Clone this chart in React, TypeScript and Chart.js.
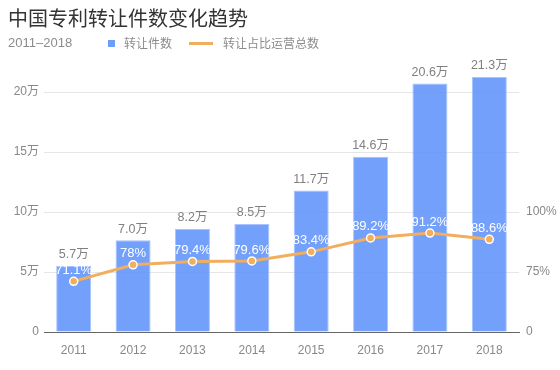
import React, { useEffect, useRef } from "react";
import { Chart, registerables } from "chart.js";

Chart.register(...registerables);

const TITLE = "中国专利转让件数变化趋势";
const SUBTITLE = "2011–2018";
const LEGEND_BAR = "转让件数";
const LEGEND_LINE = "转让占比运营总数";

const years = ["2011", "2012", "2013", "2014", "2015", "2016", "2017", "2018"];
// bar heights (万) as drawn
const transferCounts = [5.5, 7.65, 8.6, 9.0, 11.8, 14.6, 20.7, 21.25];
// bar value labels as printed
const transferLabels = ["5.7万", "7.0万", "8.2万", "8.5万", "11.7万", "14.6万", "20.6万", "21.3万"];
// share of total operations (%)
const shareValues = [71.1, 78, 79.4, 79.6, 83.4, 89.2, 91.2, 88.6];
const shareLabels = ["71.1%", "78%", "79.4%", "79.6%", "83.4%", "89.2%", "91.2%", "88.6%"];

const leftTicks = [0, 5, 10, 15, 20];
const rightTicks = [50, 75, 100];
const rightTickLabels: Record<number, string> = { 50: "0", 75: "75%", 100: "100%" };

const FONT = '"Liberation Sans", "Noto Sans CJK SC", sans-serif';
const CJK = '"Noto Sans CJK SC", sans-serif';
const BAR_COLOR = "rgba(91,143,249,0.85)";
const LINE_COLOR = "#f0ae5e";

const labelPlugin = {
  id: "valueLabels",
  afterDatasetsDraw(chart: any) {
    const ctx = chart.ctx;
    ctx.save();
    ctx.textAlign = "center";
    ctx.textBaseline = "middle";
    const barMeta = chart.getDatasetMeta(1);
    ctx.font = `12.5px ${FONT}`;
    ctx.fillStyle = "#808080";
    barMeta.data.forEach((el: any, i: number) => {
      ctx.fillText(transferLabels[i], el.x, el.y - 11);
    });
    const lineMeta = chart.getDatasetMeta(0);
    ctx.font = `13px ${FONT}`;
    ctx.fillStyle = "#ffffff";
    lineMeta.data.forEach((el: any, i: number) => {
      ctx.fillText(shareLabels[i], el.x, el.y - 11);
    });
    ctx.restore();
  },
};

export default function App() {
  const canvasRef = useRef<HTMLCanvasElement | null>(null);

  useEffect(() => {
    document.body.style.margin = "0";
    const canvas = canvasRef.current;
    if (!canvas) return;
    const chart = new Chart(canvas, {
      data: {
        labels: years,
        datasets: [
          {
            type: "line",
            label: LEGEND_LINE,
            data: shareValues,
            yAxisID: "y1",
            borderColor: LINE_COLOR,
            borderWidth: 3,
            pointRadius: 4,
            pointBackgroundColor: LINE_COLOR,
            pointBorderColor: "#ffffff",
            pointBorderWidth: 1.5,
            tension: 0,
            order: 0,
          },
          {
            type: "bar",
            label: LEGEND_BAR,
            data: transferCounts,
            yAxisID: "y",
            backgroundColor: BAR_COLOR,
            borderColor: "rgba(160,190,255,0.9)",
            borderWidth: 1,
            barPercentage: 0.59,
            categoryPercentage: 1,
            order: 1,
          },
        ],
      } as any,
      options: {
        animation: false,
        responsive: false,
        maintainAspectRatio: false,
        layout: { padding: { top: 62, left: 0, right: 0, bottom: 0 } },
        plugins: {
          legend: { display: false },
          tooltip: { enabled: false },
          title: { display: false },
        },
        scales: {
          x: {
            grid: { display: false, drawTicks: false },
            border: { display: true, color: "#666666", width: 1 },
            ticks: { color: "#888888", font: { family: FONT, size: 12 }, padding: 11 },
            afterFit(scale: any) {
              scale.height = 38;
            },
          },
          y: {
            position: "left",
            min: 0,
            max: 22.5,
            grid: { color: "#e6e6e6", drawTicks: false, lineWidth: 1 },
            border: { display: false },
            ticks: {
              color: "#888888",
              font: { family: FONT, size: 12 },
              padding: 5,
              callback: (v: any) => (v === 0 ? "0" : `${v}万`),
            },
            afterBuildTicks(scale: any) {
              scale.ticks = leftTicks.map((v) => ({ value: v }));
            },
            afterFit(scale: any) {
              scale.width = 44;
            },
          },
          y1: {
            position: "right",
            min: 50,
            max: 162.5,
            grid: { display: false, drawTicks: false },
            border: { display: false },
            ticks: {
              color: "#888888",
              font: { family: FONT, size: 12 },
              padding: 7,
              callback: (v: any) => rightTickLabels[v] ?? "",
            },
            afterBuildTicks(scale: any) {
              scale.ticks = rightTicks.map((v) => ({ value: v }));
            },
            afterFit(scale: any) {
              scale.width = 41;
            },
          },
        },
      } as any,
      plugins: [labelPlugin],
    });
    return () => chart.destroy();
  }, []);

  return (
    <div style={{ position: "relative", width: 560, height: 370, background: "#fff", fontFamily: FONT }}>
      <canvas ref={canvasRef} width={560} height={370} style={{ position: "absolute", left: 0, top: 0 }} />
      <div
        style={{
          position: "absolute",
          left: 8,
          top: 4,
          fontSize: 20,
          lineHeight: "28px",
          color: "#333333",
          fontFamily: CJK,
          whiteSpace: "nowrap",
        }}
      >
        {TITLE}
      </div>
      <div
        style={{
          position: "absolute",
          left: 8,
          top: 34,
          fontSize: 13,
          lineHeight: "18px",
          color: "#8c8c8c",
          whiteSpace: "nowrap",
        }}
      >
        {SUBTITLE}
      </div>
      <div style={{ position: "absolute", left: 108, top: 40, width: 7, height: 7, background: "#6f9ef8" }} />
      <div
        style={{
          position: "absolute",
          left: 124,
          top: 34,
          fontSize: 12,
          lineHeight: "18px",
          color: "#8c8c8c",
          fontFamily: CJK,
          whiteSpace: "nowrap",
        }}
      >
        {LEGEND_BAR}
      </div>
      <div style={{ position: "absolute", left: 189, top: 42, width: 24, height: 3, background: LINE_COLOR }} />
      <div
        style={{
          position: "absolute",
          left: 223,
          top: 34,
          fontSize: 12,
          lineHeight: "18px",
          color: "#8c8c8c",
          fontFamily: CJK,
          whiteSpace: "nowrap",
        }}
      >
        {LEGEND_LINE}
      </div>
    </div>
  );
}
